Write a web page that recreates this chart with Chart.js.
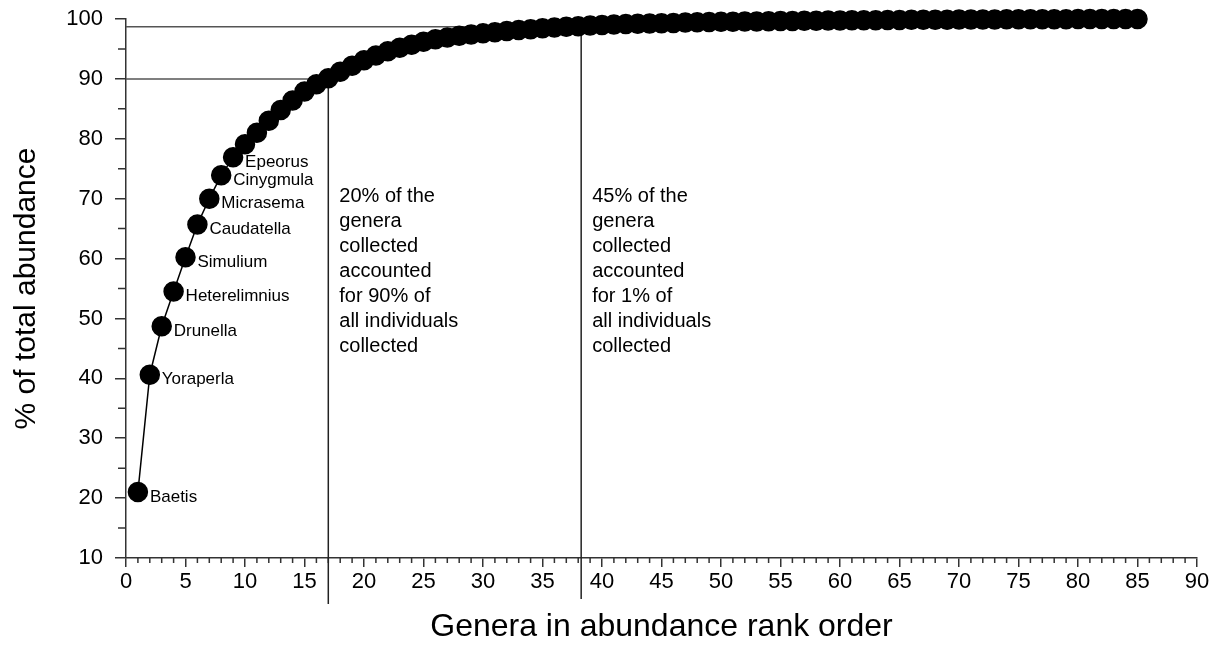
<!DOCTYPE html>
<html>
<head>
<meta charset="utf-8">
<script src="https://cdn.jsdelivr.net/npm/chart.js@4/dist/chart.umd.min.js"></script>
<style>
  html, body { margin: 0; padding: 0; background: #fff; }
</style>
</head>
<body>
<canvas id="rankChart" width="1218" height="657"></canvas>
<script>
// abundance rank of each genus
const ranks = [
  1, 2, 3, 4, 5, 6, 7, 8, 9, 10, 11, 12, 13, 14, 15, 16, 17, 18, 19, 20,
  21, 22, 23, 24, 25, 26, 27, 28, 29, 30, 31, 32, 33, 34, 35, 36, 37, 38, 39, 40,
  41, 42, 43, 44, 45, 46, 47, 48, 49, 50, 51, 52, 53, 54, 55, 56, 57, 58, 59, 60,
  61, 62, 63, 64, 65, 66, 67, 68, 69, 70, 71, 72, 73, 74, 75, 76, 77, 78, 79, 80,
  81, 82, 83, 84, 85
];
// cumulative % of total abundance
const cumPercent = [
  21.0, 40.6, 48.7, 54.5, 60.2, 65.7, 70.0, 73.9, 76.9, 79.1,
  81.0, 83.0, 84.8, 86.4, 87.9, 89.1, 90.1, 91.2, 92.2, 93.1,
  93.9, 94.6, 95.2, 95.7, 96.2, 96.6, 96.9, 97.2, 97.4, 97.6,
  97.8, 98.0, 98.15, 98.3, 98.45, 98.6, 98.7, 98.8, 98.9, 99.0,
  99.1, 99.15, 99.2, 99.25, 99.3, 99.35, 99.4, 99.45, 99.5, 99.52,
  99.55, 99.58, 99.6, 99.63, 99.65, 99.68, 99.7, 99.72, 99.74, 99.76,
  99.78, 99.8, 99.81, 99.83, 99.84, 99.86, 99.87, 99.88, 99.89, 99.9,
  99.91, 99.92, 99.93, 99.94, 99.95, 99.96, 99.96, 99.97, 99.97, 99.98,
  99.98, 99.99, 99.99, 100, 100
];
// names written next to the first points
const genusNames = ['Baetis', 'Yoraperla', 'Drunella', 'Heterelimnius', 'Simulium',
  'Caudatella', 'Micrasema', 'Cinygmula', 'Epeorus'];

const xTickValues = [0, 5, 10, 15, 20, 25, 30, 35, 40, 45, 50, 55, 60, 65, 70, 75, 80, 85, 90];
const yTickValues = [10, 20, 30, 40, 50, 60, 70, 80, 90, 100];

// cut-off lines: rank and cumulative %
const cutRanks = [17, 38.25];
const cutPercents = [90, 98.7];
const cutNotes = [
  ['20% of the', 'genera', 'collected', 'accounted', 'for 90% of', 'all individuals', 'collected'],
  ['45% of the', 'genera', 'collected', 'accounted', 'for 1% of', 'all individuals', 'collected']
];

const FONT = '"Liberation Sans", Arial, sans-serif';

const extras = {
  id: 'extras',
  beforeDatasetsDraw(chart) {
    const {ctx, scales: {x, y}} = chart;
    const y0 = y.getPixelForValue(10);
    ctx.save();
    // minor ticks
    ctx.strokeStyle = '#333';
    ctx.lineWidth = 1.5;
    ctx.beginPath();
    for (let v = 1; v < 90; v++) {
      if (v % 5 === 0) continue;
      const px = x.getPixelForValue(v);
      ctx.moveTo(px, y0);
      ctx.lineTo(px, y0 + 5);
    }
    const x0 = x.getPixelForValue(0);
    for (let v = 15; v < 100; v += 10) {
      const py = y.getPixelForValue(v);
      ctx.moveTo(x0, py);
      ctx.lineTo(x0 - 8, py);
    }
    ctx.stroke();

    // cut-off lines
    const drops = [46, 41];
    cutRanks.forEach((r, i) => {
      const px = x.getPixelForValue(r);
      const py = y.getPixelForValue(cutPercents[i]);
      ctx.strokeStyle = '#555';
      ctx.lineWidth = 1.5;
      ctx.beginPath();
      ctx.moveTo(x0, py);
      ctx.lineTo(px, py);
      ctx.stroke();
      ctx.strokeStyle = '#222';
      ctx.beginPath();
      ctx.moveTo(px, py);
      ctx.lineTo(px, y0 + drops[i]);
      ctx.stroke();

      ctx.fillStyle = '#000';
      ctx.font = '20px ' + FONT;
      ctx.textBaseline = 'middle';
      ctx.textAlign = 'left';
      cutNotes[i].forEach((line, j) => {
        ctx.fillText(line, px + 11, 196 + j * 25);
      });
    });
    ctx.restore();
  },
  afterDatasetsDraw(chart) {
    const {ctx} = chart;
    const pts = chart.getDatasetMeta(0).data;
    ctx.save();
    ctx.fillStyle = '#000';
    ctx.font = '17px ' + FONT;
    ctx.textBaseline = 'middle';
    ctx.textAlign = 'left';
    genusNames.forEach((name, i) => {
      ctx.fillText(name, pts[i].x + 12, pts[i].y + 5);
    });
    ctx.restore();
  }
};

new Chart(document.getElementById('rankChart'), {
  type: 'scatter',
  data: {
    datasets: [{
      data: ranks.map((r, i) => ({x: r, y: cumPercent[i]})),
      showLine: true,
      borderColor: '#000',
      borderWidth: 1.5,
      backgroundColor: '#000',
      pointBorderColor: '#000',
      pointRadius: 9.5,
      pointHoverRadius: 9.5,
      clip: false
    }]
  },
  options: {
    responsive: false,
    animation: false,
    events: [],
    layout: {autoPadding: false, padding: {left: 0, right: 21, top: 19, bottom: 0}},
    plugins: {legend: {display: false}, tooltip: {enabled: false}},
    scales: {
      x: {
        type: 'linear',
        min: 0,
        max: 90,
        afterBuildTicks: s => { s.ticks = xTickValues.map(v => ({value: v})); },
        afterFit: s => { s.height = 99; },
        grid: {drawOnChartArea: false, drawTicks: true, tickLength: 9, color: '#333', lineWidth: 1.5},
        border: {display: true, color: '#333', width: 1.5},
        ticks: {color: '#000', font: {family: FONT, size: 22}, padding: 2, maxRotation: 0, autoSkip: false},
        title: {display: true, text: 'Genera in abundance rank order', color: '#000',
          font: {family: FONT, size: 32}, padding: {bottom: 11}}
      },
      y: {
        type: 'linear',
        min: 10,
        max: 100,
        afterBuildTicks: s => { s.ticks = yTickValues.map(v => ({value: v})); },
        afterFit: s => { s.width = 126; },
        grid: {drawOnChartArea: false, drawTicks: true, tickLength: 11, color: '#333', lineWidth: 1.5},
        border: {display: true, color: '#333', width: 1.5},
        ticks: {color: '#000', font: {family: FONT, size: 22, lineHeight: 0.4}, padding: 12},
        title: {display: true, text: '% of total abundance', color: '#000',
          font: {family: FONT, size: 30}, padding: {top: 9}}
      }
    }
  },
  plugins: [extras]
});
</script>
</body>
</html>
